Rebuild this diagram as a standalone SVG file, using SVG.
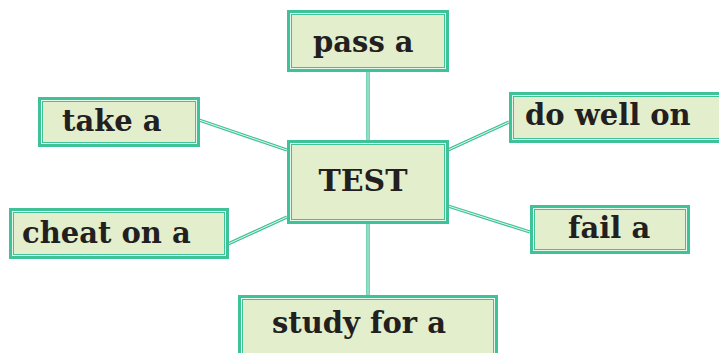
<svg xmlns="http://www.w3.org/2000/svg" width="719" height="353" viewBox="0 0 719 353">
<style>
.bo{fill:#e3eecd;stroke:#3fc298;stroke-width:5}
.bi{fill:none;stroke:#e6f7ee;stroke-width:1}
.lo{stroke:#3fc298;stroke-width:3.4;fill:none}
.li{stroke:#e6f7ee;stroke-width:1;fill:none}
.t{font-family:"DejaVu Serif","Liberation Serif",serif;font-weight:bold;font-size:29px;fill:#231f20}
</style>
<rect width="719" height="353" fill="#ffffff"/>
<g id="connectors">
<path class="lo" d="M368 72V140M368 223V295M199 120L287 150M228 244L287 217M448 150L509 122M448 206L530 232"/>
<path class="li" d="M368 72V140M368 223V295M199 120L287 150M228 244L287 217M448 150L509 122M448 206L530 232"/>
</g>
<g id="pass">
<rect class="bo" x="289.5" y="12.5" width="157" height="57"/><rect class="bi" x="290.5" y="13.5" width="155" height="55"/>
<text class="t" x="313" y="52">pass a</text>
</g>
<g id="test">
<rect class="bo" x="289.5" y="142.5" width="157" height="79"/><rect class="bi" x="290.5" y="143.5" width="155" height="77"/>
<text class="t" x="363" y="191" text-anchor="middle" style="font-size:30px">TEST</text>
</g>
<g id="take">
<rect class="bo" x="40.5" y="99.5" width="157" height="45"/><rect class="bi" x="41.5" y="100.5" width="155" height="43"/>
<text class="t" x="62" y="131">take a</text>
</g>
<g id="cheat">
<rect class="bo" x="11.5" y="210.5" width="215" height="46"/><rect class="bi" x="12.5" y="211.5" width="213" height="44"/>
<text class="t" x="22" y="243">cheat on a</text>
</g>
<g id="dowell">
<rect class="bo" x="511.5" y="94.5" width="215" height="46"/><rect class="bi" x="512.5" y="95.5" width="213" height="44"/>
<text class="t" x="525" y="125">do well on</text>
</g>
<g id="fail">
<rect class="bo" x="532.5" y="207.5" width="155" height="44"/><rect class="bi" x="533.5" y="208.5" width="153" height="42"/>
<text class="t" x="568" y="238">fail a</text>
</g>
<g id="study">
<rect class="bo" x="240.5" y="297.5" width="255" height="70"/><rect class="bi" x="241.5" y="298.5" width="253" height="68"/>
<text class="t" x="272" y="333">study for a</text>
</g>
</svg>
